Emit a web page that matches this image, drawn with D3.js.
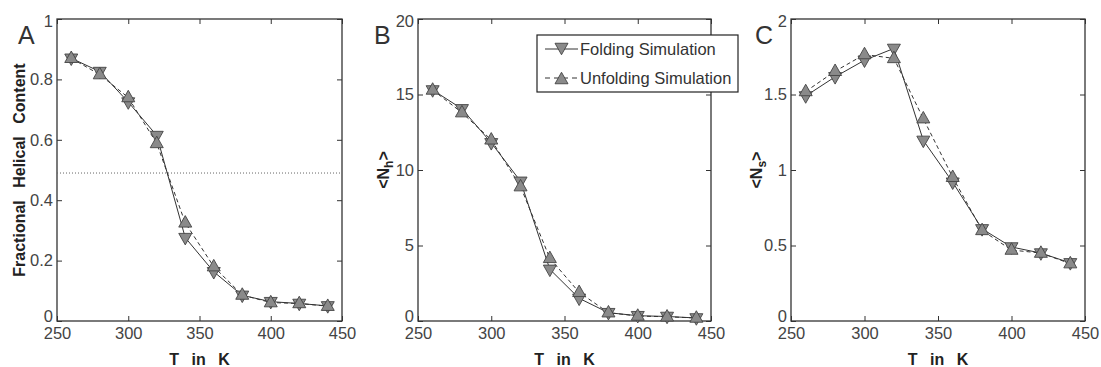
<!DOCTYPE html>
<html><head><meta charset="utf-8">
<script src="https://cdn.jsdelivr.net/npm/d3@7"></script>
<style>body{margin:0;background:#fff}svg{display:block}</style>
</head><body>
<script>
const temps = [260,280,300,320,340,360,380,400,420,440];
const xTicks = [250,300,350,400,450];
// Panel A: fractional helical content
const foldA   = [0.870,0.826,0.725,0.614,0.276,0.163,0.085,0.064,0.058,0.050];
const unfoldA = [0.870,0.816,0.740,0.588,0.325,0.180,0.086,0.061,0.058,0.049];
const yTicksA = [0,0.2,0.4,0.6,0.8,1];
const yTickLabelsA = ["0","0.2","0.4","0.6","0.8","1"];
const midlineA = 0.49;
// Panel B: <N_h>
const foldB   = [15.3,14.05,11.8,9.25,3.42,1.50,0.55,0.35,0.30,0.20];
const unfoldB = [15.3,13.8,12.0,8.90,4.15,1.90,0.55,0.33,0.28,0.20];
const yTicksB = [0,5,10,15,20];
// Panel C: <N_s>
const foldC   = [1.49,1.617,1.727,1.805,1.196,0.919,0.610,0.490,0.450,0.385];
const unfoldC = [1.52,1.654,1.765,1.739,1.340,0.952,0.600,0.470,0.450,0.380];
const yTicksC = [0,0.5,1,1.5,2];
const yTickLabelsC = ["0","0.5","1","1.5","2"];
const seriesNames = ["Folding Simulation","Unfolding Simulation"];
const panelLetters = ["A","B","C"];

const W = 1101, H = 367;
const svg = d3.select("body").append("svg").attr("width",W).attr("height",H);
const FONT = "'Liberation Sans', Arial, sans-serif";
const plotTop = 19, plotBottom = 321;

function tri(up, w=13, h=11.5){
  const hw=w/2, hh=h/2;
  return up ? `M0,${-hh}L${hw},${hh}L${-hw},${hh}Z` : `M0,${hh}L${hw},${-hh}L${-hw},${-hh}Z`;
}

function panel(cfg){
  const x = d3.scaleLinear().domain([250,450]).range([cfg.left,cfg.right]);
  const y = d3.scaleLinear().domain(cfg.ydom).range([plotBottom,plotTop]);
  const g = svg.append("g");
  g.append("rect").attr("x",cfg.left).attr("y",plotTop).attr("width",cfg.right-cfg.left).attr("height",plotBottom-plotTop)
    .attr("fill","none").attr("stroke","#333").attr("stroke-width",1.3);
  const ax = g.append("g").attr("transform",`translate(0,${plotBottom})`)
    .call(d3.axisBottom(x).tickValues(xTicks).tickSizeInner(-5).tickSizeOuter(0).tickPadding(9));
  const axT = g.append("g").attr("transform",`translate(0,${plotTop})`)
    .call(d3.axisTop(x).tickValues(xTicks).tickSizeInner(-5).tickSizeOuter(0).tickFormat(""));
  const ay = g.append("g").attr("transform",`translate(${cfg.left},0)`)
    .call(d3.axisLeft(y).tickValues(cfg.yticks).tickSizeInner(-5).tickSizeOuter(0).tickPadding(4)
      .tickFormat((d,i)=>cfg.ylabels[i]));
  const ayR = g.append("g").attr("transform",`translate(${cfg.right},0)`)
    .call(d3.axisRight(y).tickValues(cfg.yticks).tickSizeInner(-5).tickSizeOuter(0).tickFormat(""));
  [ax,axT,ay,ayR].forEach(a=>{
    a.select(".domain").remove();
    a.selectAll("line").attr("stroke","#333");
    a.selectAll("text").attr("font-family",FONT).attr("font-size",16.5).attr("fill","#444");
  });
  ay.selectAll(".tick text").attr("dy", (d)=> d===cfg.ydom[1] ? "0.45em" : (d===cfg.ydom[0] ? "0.05em" : "0.32em"));
  ax.selectAll(".tick text").attr("dy","0.55em");
  if(cfg.midline!==undefined){
    g.append("line").attr("x1",cfg.left).attr("x2",cfg.right).attr("y1",y(cfg.midline)).attr("y2",y(cfg.midline))
      .attr("stroke","#666").attr("stroke-dasharray","1,2").attr("stroke-width",1);
  }
  const line = d3.line().x((d,i)=>x(temps[i])).y(d=>y(d));
  g.append("path").datum(cfg.unfold).attr("d",line).attr("fill","none").attr("stroke","#333")
    .attr("stroke-width",1).attr("stroke-dasharray","4,3");
  g.append("path").datum(cfg.fold).attr("d",line).attr("fill","none").attr("stroke","#333").attr("stroke-width",1);
  g.selectAll(".mf").data(cfg.fold).enter().append("path")
    .attr("transform",(d,i)=>`translate(${x(temps[i])},${y(d)+1.5})`).attr("d",tri(false))
    .attr("fill","#8a8a8a").attr("stroke","#444").attr("stroke-width",0.9);
  g.selectAll(".mu").data(cfg.unfold).enter().append("path")
    .attr("transform",(d,i)=>`translate(${x(temps[i])},${y(d)-1.5})`).attr("d",tri(true))
    .attr("fill","#8a8a8a").attr("stroke","#444").attr("stroke-width",0.9);
  g.append("text").attr("x",(cfg.left+cfg.right)/2).attr("y",365).attr("text-anchor","middle")
    .attr("font-family",FONT).attr("font-weight","bold").attr("font-size",16).attr("fill","#222")
    .attr("word-spacing","8px").text("T in K");
  const yl = g.append("text").attr("transform",`translate(${cfg.ylabx},${(plotTop+plotBottom)/2}) rotate(-90)`)
    .attr("text-anchor","middle").attr("font-family",FONT).attr("font-weight","bold").attr("font-size",16)
    .attr("fill","#222").attr("word-spacing","8px");
  if(cfg.ysub){
    yl.append("tspan").text("<N");
    yl.append("tspan").text(cfg.ysub).attr("font-size",12).attr("dy",4);
    yl.append("tspan").text(">").attr("dy",-4);
  } else yl.text(cfg.ylabel);
  g.append("text").attr("x",cfg.letx).attr("y",44).attr("font-family",FONT).attr("font-size",25)
    .attr("fill","#333").text(cfg.letter);
  return {x,y,g};
}

panel({left:57,right:342,ydom:[0,1],yticks:yTicksA,ylabels:yTickLabelsA,fold:foldA,unfold:unfoldA,
  midline:midlineA,ylabx:25,ylabel:"Fractional Helical Content",letter:panelLetters[0],letx:18});
panel({left:418,right:711,ydom:[0,20],yticks:yTicksB,ylabels:yTicksB.map(String),fold:foldB,unfold:unfoldB,
  ylabx:389,ysub:"h",letter:panelLetters[1],letx:374});
panel({left:791,right:1085,ydom:[0,2],yticks:yTicksC,ylabels:yTickLabelsC,fold:foldC,unfold:unfoldC,
  ylabx:762,ysub:"s",letter:panelLetters[2],letx:755});

const lg = svg.append("g");
lg.append("rect").attr("x",537).attr("y",35).attr("width",201).attr("height",57)
  .attr("fill","#fff").attr("stroke","#222").attr("stroke-width",1.2);
const rows = [49,78];
seriesNames.forEach((name,i)=>{
  const yy = rows[i];
  lg.append("line").attr("x1",545).attr("x2",578).attr("y1",yy).attr("y2",yy).attr("stroke","#333")
    .attr("stroke-dasharray", i===1 ? "5,4" : null);
  lg.append("path").attr("transform",`translate(561.5,${yy})`).attr("d",tri(i===1))
    .attr("fill","#8a8a8a").attr("stroke","#444").attr("stroke-width",0.9);
  lg.append("text").attr("x",580).attr("y",yy+6).attr("font-family",FONT).attr("font-size",16.5)
    .attr("fill","#333").text(name);
});
</script>
</body></html>
